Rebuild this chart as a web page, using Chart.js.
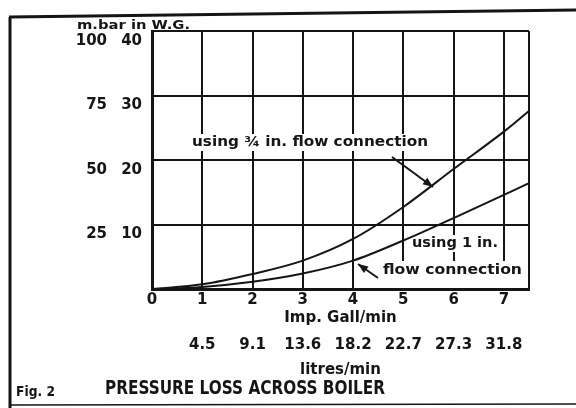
<!DOCTYPE html>
<html><head><meta charset="utf-8">
<script src="https://cdn.jsdelivr.net/npm/chart.js@4/dist/chart.umd.min.js"></script>
<style>html,body{margin:0;padding:0;background:#fff}#wrap{width:576px;height:408px}</style>
</head><body><div id="wrap"><canvas id="c" width="576" height="408"></canvas></div>
<script>
// ---- data ----
const gallPerMin = [0, 1, 2, 3, 4, 5, 6, 7, 7.5];
const lossThreeQuarterMbar = [0, 1.8, 5.8, 11.0, 19.4, 31.8, 46.5, 61, 69];
const lossOneInchMbar = [0, 0.8, 2.8, 6.0, 11.0, 18.8, 27.5, 36.5, 41];
const gallTicks = [0, 1, 2, 3, 4, 5, 6, 7, 7.5];
const gallTickLabels = ['0', '1', '2', '3', '4', '5', '6', '7', ''];
const litresTickLabels = ['', '4.5', '9.1', '13.6', '18.2', '22.7', '27.3', '31.8', ''];
const mbarTickLabels = ['', '25', '50', '75', '100'];
const inchTickLabels = ['', '10', '20', '30', '40'];

const INK = '#151515';
const FONT = 'DejaVu Sans';

function pts(ys) { return gallPerMin.map((x, i) => ({x: x, y: ys[i]})); }

function fitText(ctx, text, x1, x2, cy, font) {
  ctx.save();
  ctx.font = font;
  ctx.fillStyle = INK;
  ctx.textBaseline = 'middle';
  ctx.textAlign = 'left';
  const w = ctx.measureText(text).width;
  ctx.translate(x1, cy);
  ctx.scale((x2 - x1) / w, 1);
  ctx.fillText(text, 0, 0);
  ctx.restore();
}
function arrow(ctx, x1, y1, x2, y2) {
  ctx.save();
  ctx.strokeStyle = INK; ctx.fillStyle = INK; ctx.lineWidth = 2;
  ctx.beginPath(); ctx.moveTo(x1, y1); ctx.lineTo(x2, y2); ctx.stroke();
  const a = Math.atan2(y2 - y1, x2 - x1), L = 10, W = 4;
  ctx.beginPath();
  ctx.moveTo(x2, y2);
  ctx.lineTo(x2 - L * Math.cos(a) + W * Math.sin(a), y2 - L * Math.sin(a) - W * Math.cos(a));
  ctx.lineTo(x2 - L * Math.cos(a) - W * Math.sin(a), y2 - L * Math.sin(a) + W * Math.cos(a));
  ctx.closePath(); ctx.fill();
  ctx.restore();
}

const decor = {
  id: 'decor',
  beforeDatasetsDraw(chart) {
    const ctx = chart.ctx;
    ctx.save();
    ctx.fillStyle = '#fff';
    ctx.fillRect(188, 134, 244, 17);
    ctx.fillRect(408, 235, 94, 17);
    ctx.fillRect(357, 261, 170, 27);
    ctx.restore();
  },
  afterDatasetsDraw(chart) {
    const ctx = chart.ctx;
    fitText(ctx, 'using \u00BE in. flow connection', 192, 428, 142, 'bold 14px "' + FONT + '"');
    fitText(ctx, 'using 1 in.', 412, 498, 243, 'bold 14px "' + FONT + '"');
    fitText(ctx, 'flow connection', 383, 522, 270, 'bold 14px "' + FONT + '"');
    arrow(ctx, 392, 157, 433, 187);
    arrow(ctx, 378, 278, 358, 264);
  },
  afterDraw(chart) {
    const ctx = chart.ctx;
    ctx.save();
    ctx.strokeStyle = INK;
    ctx.lineWidth = 3;
    ctx.beginPath(); ctx.moveTo(10, 17); ctx.lineTo(10, 408); ctx.stroke();
    ctx.beginPath(); ctx.moveTo(9, 17); ctx.lineTo(576, 10); ctx.stroke();
    ctx.lineWidth = 1.5;
    ctx.beginPath(); ctx.moveTo(10, 405); ctx.lineTo(576, 404); ctx.stroke();
    ctx.restore();
    fitText(ctx, 'm.bar in W.G.', 77, 190, 26, 'bold 12px "' + FONT + '"');
    fitText(ctx, 'Fig. 2', 16, 55, 392, 'bold 14px "' + FONT + '"');
    fitText(ctx, 'PRESSURE LOSS ACROSS BOILER', 105, 385, 389, 'bold 20px "' + FONT + '"');
  }
};

const tickFont = {family: FONT, weight: 'bold', size: 15};
const setGallTicks = s => { s.ticks = gallTicks.map(v => ({value: v})); };

new Chart(document.getElementById('c'), {
  type: 'line',
  data: {
    datasets: [
      {label: 'using \u00BE in. flow connection', data: pts(lossThreeQuarterMbar)},
      {label: 'using 1 in. flow connection', data: pts(lossOneInchMbar)}
    ]
  },
  options: {
    responsive: false,
    animation: false,
    devicePixelRatio: 1,
    layout: {padding: {top: 31, right: 47, bottom: 29, left: 0}},
    plugins: {legend: {display: false}, tooltip: {enabled: false}},
    elements: {
      point: {radius: 0},
      line: {borderColor: INK, borderWidth: 2, cubicInterpolationMode: 'monotone', fill: false}
    },
    scales: {
      x: {
        type: 'linear', position: 'bottom', weight: 0, min: 0, max: 7.5,
        afterBuildTicks: setGallTicks,
        ticks: {autoSkip: false, maxRotation: 0, padding: 2, color: INK, font: tickFont,
          callback: (v, i) => gallTickLabels[i]},
        grid: {color: INK, lineWidth: 2, drawTicks: false},
        border: {color: INK, width: 3},
        title: {display: true, text: 'Imp. Gall/min', color: INK, font: tickFont, padding: {top: 0, bottom: 0}},
        afterFit: s => { s.height = 38; }
      },
      x2: {
        type: 'linear', position: 'bottom', weight: 1, min: 0, max: 7.5,
        afterBuildTicks: setGallTicks,
        ticks: {autoSkip: false, maxRotation: 0, padding: 9, color: INK, font: tickFont,
          callback: (v, i) => litresTickLabels[i]},
        grid: {display: false, drawTicks: false},
        border: {display: false},
        title: {display: true, text: 'litres/min', color: INK, font: tickFont, padding: {top: 0, bottom: 0}},
        afterFit: s => { s.height = 52; }
      },
      y: {
        type: 'linear', position: 'left', weight: 1, min: 0, max: 100,
        ticks: {stepSize: 25, padding: 0, labelOffset: 10, color: INK, font: tickFont,
          callback: v => mbarTickLabels[v / 25]},
        grid: {color: INK, lineWidth: 2, drawTicks: false},
        border: {display: false},
        afterFit: s => { s.width = 107; }
      },
      y2: {
        type: 'linear', position: 'left', weight: 0, min: 0, max: 40,
        ticks: {stepSize: 10, padding: 10, labelOffset: 10, color: INK, font: tickFont,
          callback: v => inchTickLabels[v / 10]},
        grid: {display: false, drawTicks: false},
        border: {color: INK, width: 3},
        afterFit: s => { s.width = 45; }
      }
    }
  },
  plugins: [decor]
});
</script>
</body></html>
